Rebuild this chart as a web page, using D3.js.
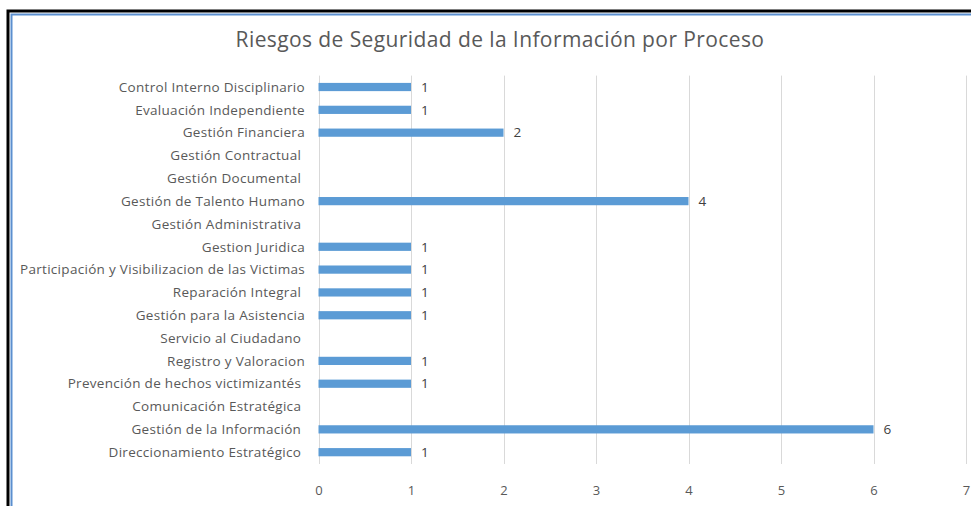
<!DOCTYPE html>
<html>
<head>
    <meta charset="utf-8">
    <style type="text/css">
        body { margin: 0; background: #fff; }
        #mySvg { display: block; }
        text { font-family: "Open Sans", Lato, sans-serif; }
        .cat text { font-size: 13.5px; fill: #595959; white-space: pre; letter-spacing: 0.3px; }
        .xaxis text { font-size: 13px; fill: #595959; }
        .val { font-size: 13.5px; fill: #404040; }
    </style>
    <script src="https://d3js.org/d3.v7.min.js"></script>
</head>
<body>
    <svg id="mySvg" width="971" height="506"></svg>
<script type="text/javascript">
// categories top to bottom, as in the picture
const categories = [
    'Control Interno Disciplinario',
    'Evaluación Independiente',
    'Gestión Financiera',
    'Gestión Contractual ',
    'Gestión Documental ',
    'Gestión de Talento Humano',
    'Gestión Administrativa ',
    'Gestion Juridica',
    'Participación y Visibilizacion de las Victimas',
    'Reparación Integral ',
    'Gestión para la Asistencia',
    'Servicio al Ciudadano ',
    'Registro y Valoracion',
    'Prevención de hechos victimizantés ',
    'Comunicación Estratégica ',
    'Gestión de la Información ',
    'Direccionamiento Estratégico '
];
// null = no bar / no label
const riesgos = [1, 1, 2, null, null, 4, null, 1, 1, 1, 1, null, 1, 1, null, 6, 1];
const xTicks = [0, 1, 2, 3, 4, 5, 6, 7];
const title = 'Riesgos de Seguridad de la Información por Proceso';

const data = categories.map((c, i) => ({ name: c, value: riesgos[i] }));

const svg = d3.select('#mySvg');

// frame: black outer line and blue inner line, running off the right/bottom edge
svg.append('rect')
    .attr('x', 8).attr('y', 11)
    .attr('width', 1000).attr('height', 600)
    .attr('fill', 'none')
    .attr('stroke', '#000')
    .attr('stroke-width', 3);
svg.append('rect')
    .attr('x', 11.5).attr('y', 14.5)
    .attr('width', 1000).attr('height', 600)
    .attr('fill', 'none')
    .attr('stroke', '#5b8fcf')
    .attr('stroke-width', 2);

svg.append('text')
    .attr('x', 500)
    .attr('y', 47)
    .attr('text-anchor', 'middle')
    .style('font-size', '21px')
    .style('letter-spacing', '0.4px')
    .style('fill', '#595959')
    .text(title);

const x = d3.scaleLinear()
    .domain([0, 7])
    .range([318.5, 966]);

const y = d3.scaleBand()
    .domain(categories)
    .range([75.6, 463.6])
    .paddingInner(0.64)
    .paddingOuter(0.32);

// vertical gridlines
svg.append('g')
    .selectAll('line')
    .data(xTicks)
    .enter()
    .append('line')
    .attr('x1', d => Math.round(x(d)) + 0.5)
    .attr('x2', d => Math.round(x(d)) + 0.5)
    .attr('y1', 75.6)
    .attr('y2', 464)
    .attr('stroke', '#d9d9d9')
    .attr('stroke-width', 1);

// x axis labels
svg.append('g')
    .attr('class', 'xaxis')
    .attr('transform', 'translate(0,486)')
    .call(d3.axisBottom(x).tickValues(xTicks).tickFormat(d3.format('d')).tickSize(0).tickPadding(0))
    .call(g => g.select('.domain').remove());

// category labels
svg.append('g')
    .attr('class', 'cat')
    .attr('transform', 'translate(305,0)')
    .call(d3.axisLeft(y).tickSize(0).tickPadding(0))
    .call(g => g.select('.domain').remove())
    .selectAll('text')
    .attr('dy', '0.35em');

const bars = data.filter(d => d.value != null);

svg.append('g')
    .selectAll('rect')
    .data(bars)
    .enter()
    .append('rect')
    .attr('x', x(0))
    .attr('y', d => y(d.name))
    .attr('width', d => x(d.value) - x(0))
    .attr('height', y.bandwidth())
    .attr('fill', '#5b9bd5');

svg.append('g')
    .selectAll('text')
    .data(bars)
    .enter()
    .append('text')
    .attr('class', 'val')
    .attr('x', d => x(d.value) + 10)
    .attr('y', d => y(d.name) + y.bandwidth() / 2)
    .attr('dy', '0.35em')
    .text(d => d.value);
</script>
</body>
</html>
